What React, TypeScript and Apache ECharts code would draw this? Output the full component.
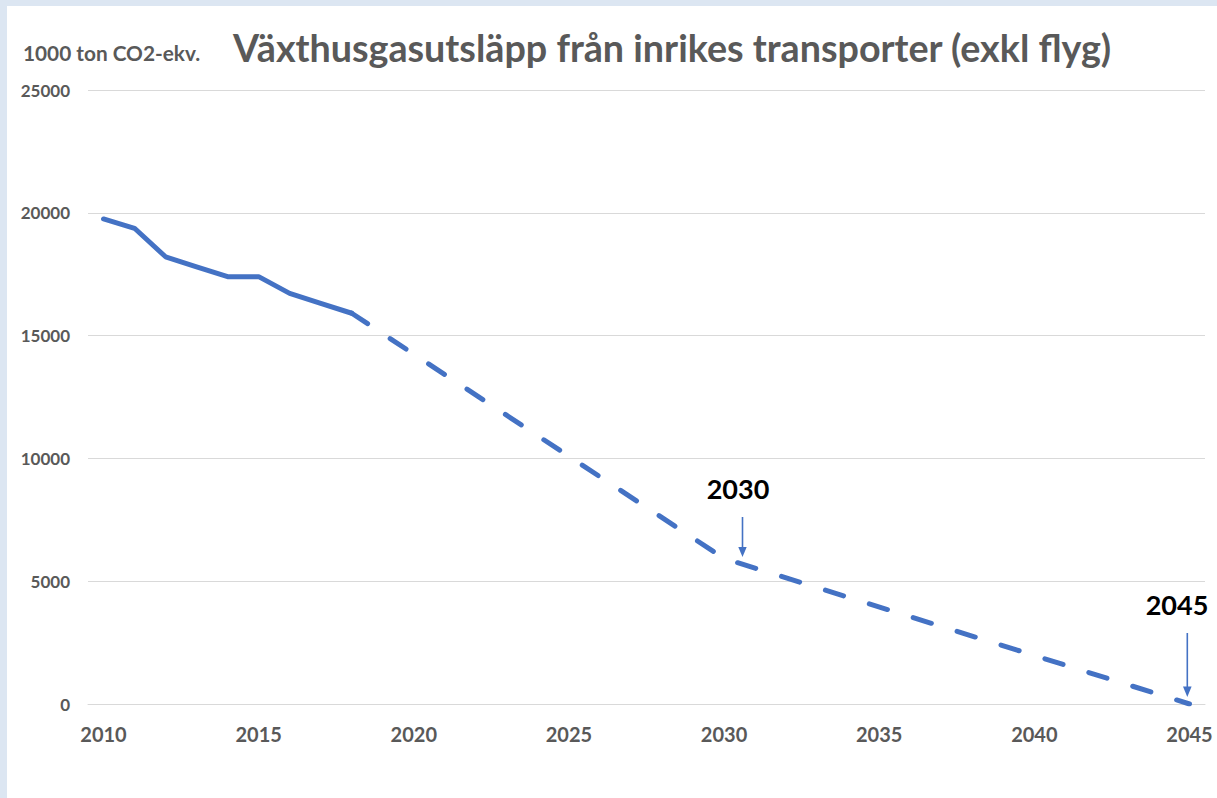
import React, { useEffect, useRef } from "react";
import * as echarts from "echarts";

const years = [
  "2010", "2011", "2012", "2013", "2014", "2015", "2016", "2017", "2018", "2019",
  "2020", "2021", "2022", "2023", "2024", "2025", "2026", "2027", "2028", "2029",
  "2030", "2031", "2032", "2033", "2034", "2035", "2036", "2037", "2038", "2039",
  "2040", "2041", "2042", "2043", "2044", "2045",
];

// Historical emissions (1000 ton CO2-ekv.)
const actualYears = ["2010", "2011", "2012", "2013", "2014", "2015", "2016", "2017", "2018"];
const actualValues = [19750, 19370, 18210, 17800, 17400, 17400, 16720, 16310, 15910];

// Target path (dashed)
const targetYears = ["2018", "2030", "2045"];
const targetValues = [15910, 5925, 0];

const yTicks = { min: 0, max: 25000, interval: 5000 };

const BLUE = "#4472C4";
const GREY = "#595959";
const FONT = "Lato, 'Open Sans', sans-serif";

function toSeries(ys: string[], vs: number[]) {
  return years.map((y) => {
    const i = ys.indexOf(y);
    return i >= 0 ? vs[i] : null;
  });
}

export default function App() {
  const ref = useRef<HTMLDivElement>(null);

  useEffect(() => {
    if (!ref.current) return;
    const chart = echarts.init(ref.current, undefined, { renderer: "svg" });
    chart.setOption({
      animation: false,
      backgroundColor: "#ffffff",
      grid: { left: 88, right: 12, top: 90, bottom: 94, containLabel: false, outerBoundsMode: "none" },
      xAxis: {
        type: "category",
        data: years,
        boundaryGap: true,
        axisLine: { show: true, lineStyle: { color: "#d9d9d9", width: 1 } },
        axisTick: { show: false },
        axisLabel: {
          interval: 4,
          color: GREY,
          fontFamily: FONT,
          fontWeight: "bold",
          fontSize: 20,
          margin: 20,
        },
        splitLine: { show: false },
      },
      yAxis: {
        type: "value",
        min: yTicks.min,
        max: yTicks.max,
        interval: yTicks.interval,
        axisLine: { show: false },
        axisTick: { show: false },
        axisLabel: {
          color: GREY,
          fontFamily: FONT,
          fontWeight: "bold",
          fontSize: 17,
          margin: 18,
          formatter: (v: number) => String(v),
        },
        splitLine: { lineStyle: { color: "#d9d9d9", width: 1 } },
      },
      series: [
        {
          type: "line",
          data: toSeries(targetYears, targetValues),
          connectNulls: true,
          symbol: "none",
          lineStyle: { color: BLUE, width: 5, type: [19, 27], cap: "round", join: "round" },
          z: 2,
        },
        {
          type: "line",
          data: toSeries(actualYears, actualValues),
          symbol: "none",
          lineStyle: { color: BLUE, width: 5, cap: "round", join: "round" },
          z: 3,
        },
      ],
      graphic: [
        { type: "rect", z: -100, silent: true, shape: { x: 0, y: 0, width: 1217, height: 6 }, style: { fill: "#dce6f2" } },
        { type: "rect", z: -100, silent: true, shape: { x: 0, y: 0, width: 7, height: 798 }, style: { fill: "#dce6f2" } },
        {
          type: "text",
          x: 233,
          y: 47,
          style: {
            text: "Växthusgasutsläpp från inrikes transporter (exkl flyg)",
            font: `bold 37.7px ${FONT}`,
            fill: GREY,
            align: "left",
            verticalAlign: "middle",
          },
        },
        {
          type: "text",
          x: 23,
          y: 52,
          style: {
            text: "1000 ton CO2-ekv.",
            font: `bold 20.8px ${FONT}`,
            fill: GREY,
            align: "left",
            verticalAlign: "middle",
          },
        },
        {
          type: "text",
          x: 738,
          y: 488,
          style: { text: "2030", font: `bold 27px ${FONT}`, fill: "#000000", align: "center", verticalAlign: "middle" },
        },
        {
          type: "text",
          x: 1177,
          y: 604,
          style: { text: "2045", font: `bold 27px ${FONT}`, fill: "#000000", align: "center", verticalAlign: "middle" },
        },
        { type: "line", shape: { x1: 742.5, y1: 517, x2: 742.5, y2: 549 }, style: { stroke: BLUE, lineWidth: 1.6 } },
        { type: "polygon", shape: { points: [[738.3, 547], [746.7, 547], [742.5, 557]] }, style: { fill: BLUE } },
        { type: "line", shape: { x1: 1187.3, y1: 633, x2: 1187.3, y2: 688 }, style: { stroke: BLUE, lineWidth: 1.6 } },
        { type: "polygon", shape: { points: [[1183, 686.5], [1191.6, 686.5], [1187.3, 697]] }, style: { fill: BLUE } },
      ],
    });
    return () => chart.dispose();
  }, []);

  return (
    <div
      ref={ref}
      style={{ position: "fixed", left: 0, top: 0, width: 1217, height: 798 }}
    />
  );
}
